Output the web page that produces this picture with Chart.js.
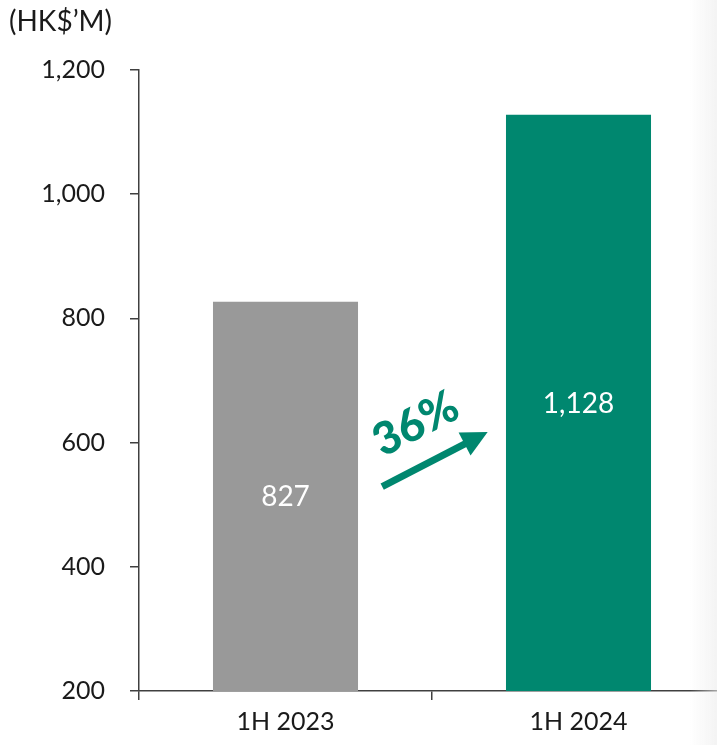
<!DOCTYPE html>
<html lang="en">
<head>
    <meta charset="utf-8"/>
    <title>1H revenue</title>
    <style>
        * { margin: 0; padding: 0; box-sizing: border-box; }
        body { background: #ffffff; overflow: hidden; width: 717px; height: 745px; }
        .wrap { position: relative; width: 730px; height: 745px; }
        .shade {
            position: absolute; top: 0; left: 690px; width: 27px; height: 745px;
            background: linear-gradient(to right, rgba(240,240,240,0), rgba(236,236,236,0.6));
            pointer-events: none;
        }
    </style>
</head>
<body>
    <div class="wrap">
        <canvas id="chart" width="730" height="745"></canvas>
    </div>
    <div class="shade"></div>
    <script src="https://cdn.jsdelivr.net/npm/chart.js@4.4.1/dist/chart.umd.min.js"></script>
    <script>
        const categories = ["1H 2023", "1H 2024"];
        const values = [827, 1128];
        const barColors = ["#999999", "#00876F"];
        const yTicks = [200, 400, 600, 800, 1000, 1200];
        const unitLabel = "(HK$\u2019M)";

        const FONT = "Lato, 'Open Sans', sans-serif";
        const growth = Math.round((values[1] / values[0] - 1) * 100);

        // value labels in the middle of the visible part of each bar
        const barLabels = {
            id: "barLabels",
            afterDatasetsDraw(chart) {
                const ctx = chart.ctx;
                const meta = chart.getDatasetMeta(0);
                const bottom = chart.chartArea.bottom;
                ctx.save();
                ctx.fillStyle = "#ffffff";
                ctx.font = "28px " + FONT;
                ctx.textAlign = "center";
                ctx.textBaseline = "middle";
                meta.data.forEach((bar, i) => {
                    const mid = (bar.y + Math.min(bar.base, bottom)) / 2;
                    ctx.fillText(values[i].toLocaleString("en-US"), bar.x, mid + 1);
                });
                ctx.restore();
            }
        };

        // unit label and growth arrow
        const extras = {
            id: "extras",
            afterDraw(chart) {
                const ctx = chart.ctx;
                const x = chart.scales.x;
                const y = chart.scales.y;
                ctx.save();
                ctx.fillStyle = "#1a1a1a";
                ctx.font = "28px " + FONT;
                ctx.textAlign = "left";
                ctx.textBaseline = "middle";
                ctx.fillText(unitLabel, 9, 22);

                const x1 = x.getPixelForValue(0.33), y1 = y.getPixelForValue(529);
                const x2 = x.getPixelForValue(0.69), y2 = y.getPixelForValue(617);
                const ang = Math.atan2(y2 - y1, x2 - x1);
                const headLen = 26, headW = 13;
                const bx = x2 - headLen * Math.cos(ang), by = y2 - headLen * Math.sin(ang);
                ctx.strokeStyle = barColors[1];
                ctx.fillStyle = barColors[1];
                ctx.lineWidth = 7;
                ctx.beginPath();
                ctx.moveTo(x1, y1);
                ctx.lineTo(bx + 2 * Math.cos(ang), by + 2 * Math.sin(ang));
                ctx.stroke();
                ctx.beginPath();
                ctx.moveTo(x2, y2);
                ctx.lineTo(bx + headW * Math.sin(ang), by - headW * Math.cos(ang));
                ctx.lineTo(bx - headW * Math.sin(ang), by + headW * Math.cos(ang));
                ctx.closePath();
                ctx.fill();

                const tx = x.getPixelForValue(0.445), ty = y.getPixelForValue(630);
                ctx.translate(tx, ty);
                ctx.rotate(ang);
                ctx.font = "900 45px " + FONT;
                ctx.textAlign = "center";
                ctx.fillText(growth + "%", 0, 0);
                ctx.restore();
            }
        };

        new Chart(document.getElementById("chart"), {
            type: "bar",
            data: {
                labels: categories,
                datasets: [{
                    data: values,
                    backgroundColor: barColors,
                    barPercentage: 0.99,
                    categoryPercentage: 0.5
                }]
            },
            options: {
                responsive: false,
                animation: false,
                events: [],
                layout: { padding: { top: 70, right: 5, left: 0, bottom: 0 } },
                plugins: { legend: { display: false }, tooltip: { enabled: false } },
                scales: {
                    x: {
                        afterFit(scale) { scale.height = 54; },
                        border: { color: "#404040", width: 1.5 },
                        grid: { drawOnChartArea: false, tickLength: 9, color: "#404040", lineWidth: 1.5, offset: true },
                        ticks: { color: "#1a1a1a", font: { family: FONT, size: 25 }, padding: 7 }
                    },
                    y: {
                        min: yTicks[0],
                        max: yTicks[yTicks.length - 1],
                        afterFit(scale) { scale.width = 139; },
                        afterBuildTicks(scale) { scale.ticks = yTicks.map(v => ({ value: v })); },
                        border: { color: "#404040", width: 1.5 },
                        grid: { drawOnChartArea: false, tickLength: 9, color: "#404040", lineWidth: 1.5 },
                        ticks: {
                            color: "#1a1a1a",
                            font: { family: FONT, size: 25 },
                            padding: 25,
                            callback: v => v.toLocaleString("en-US")
                        }
                    }
                }
            },
            plugins: [barLabels, extras]
        });
    </script>
</body>
</html>
